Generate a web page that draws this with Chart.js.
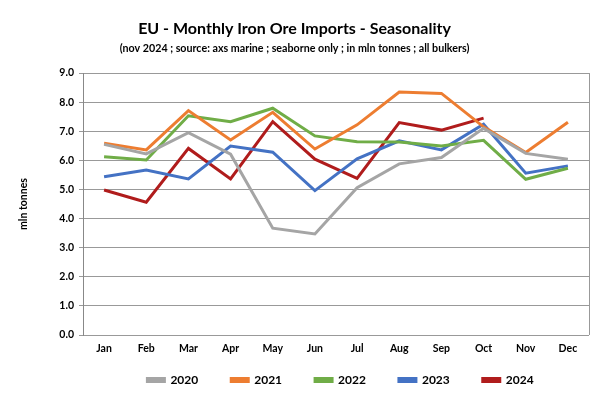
<!DOCTYPE html>
<html>
<head>
<meta charset="utf-8">
<script src="https://cdn.jsdelivr.net/npm/chart.js@4"></script>
<style>
  body { margin: 0; background: #fff; }
  #wrap { width: 600px; height: 396px; }
</style>
</head>
<body>
<div id="wrap"><canvas id="seasonChart"></canvas></div>
<script>
const months = ["Jan", "Feb", "Mar", "Apr", "May", "Jun", "Jul", "Aug", "Sep", "Oct", "Nov", "Dec"];
const years = ["2020", "2021", "2022", "2023", "2024"];

// mln tonnes
const y2020 = [6.55, 6.22, 6.95, 6.21, 3.67, 3.47, 5.06, 5.88, 6.10, 7.10, 6.24, 6.04];
const y2021 = [6.59, 6.36, 7.71, 6.70, 7.65, 6.39, 7.22, 8.35, 8.30, 7.15, 6.27, 7.31];
const y2022 = [6.12, 6.01, 7.53, 7.33, 7.79, 6.84, 6.64, 6.63, 6.49, 6.69, 5.35, 5.73];
const y2023 = [5.44, 5.67, 5.36, 6.49, 6.28, 4.96, 6.05, 6.67, 6.36, 7.24, 5.56, 5.81];
const y2024 = [4.98, 4.56, 6.41, 5.36, 7.33, 6.04, 5.38, 7.30, 7.04, 7.45, null, null];

const yTicks = [0, 1, 2, 3, 4, 5, 6, 7, 8, 9];

const colors = ["#a5a5a5", "#ed7d31", "#70ad47", "#4472c4", "#b01c1c"];
const series = [y2020, y2021, y2022, y2023, y2024];

const font = "Lato, 'Open Sans', sans-serif";

// right edge of the plot frame + legend nudged like the original
const frameRight = {
  id: "frameRight",
  afterLayout(chart) {
    const lg = chart.legend;
    if (lg) {
      lg.left += 46;
      lg.right += 46;
      lg.top -= 16;
      lg.bottom = chart.height;
    }
  },
  afterDraw(chart) {
    const a = chart.chartArea;
    const c = chart.ctx;
    c.save();
    c.strokeStyle = "#999";
    c.lineWidth = 1;
    c.beginPath();
    c.moveTo(a.right + 0.5, a.top);
    c.lineTo(a.right + 0.5, a.bottom);
    c.stroke();
    c.restore();
  }
};

const ctx = document.getElementById("seasonChart").getContext("2d");
new Chart(ctx, {
  type: "line",
  data: {
    labels: months,
    datasets: years.map((y, i) => ({
      label: y,
      data: series[i],
      borderColor: colors[i],
      backgroundColor: colors[i],
      borderWidth: 3,
      pointRadius: 0,
      tension: 0,
      spanGaps: false
    }))
  },
  options: {
    responsive: true,
    maintainAspectRatio: false,
    animation: false,
    layout: { padding: { top: 10, right: 11, left: 0, bottom: 0 } },
    plugins: {
      title: {
        display: true,
        text: "EU - Monthly Iron Ore Imports - Seasonality",
        color: "#000",
        font: { family: font, size: 16, weight: "bold" },
        padding: { top: 9, bottom: 2 }
      },
      subtitle: {
        display: true,
        text: "(nov 2024 ; source: axs marine ; seaborne only ; in mln tonnes ; all bulkers)",
        color: "#000",
        font: { family: font, size: 10.7, weight: "bold" },
        padding: { top: 1.5, bottom: 18.5 }
      },
      legend: {
        position: "bottom",
        maxHeight: 39,
        labels: {
          color: "#000",
          boxWidth: 17,
          boxHeight: 3,
          padding: 33,
          font: { family: font, size: 12, weight: "bold", lineHeight: 1 }
        }
      },
      tooltip: { enabled: false }
    },
    scales: {
      x: {
        offset: true,
        afterFit(scale) { scale.height = 22; },
        grid: { display: false, drawTicks: false },
        border: { display: false },
        ticks: {
          color: "#000",
          font: { family: font, size: 10.5, weight: "bold" },
          padding: 7
        }
      },
      y: {
        min: 0,
        max: 9,
        afterBuildTicks(scale) {
          scale.ticks = yTicks.map(v => ({ value: v }));
        },
        afterFit(scale) { scale.width = 83; },
        grid: { color: "#999", tickLength: 4 },
        border: { display: true, color: "#888" },
        title: {
          display: true,
          text: "mln tonnes",
          color: "#000",
          font: { family: font, size: 10.5, weight: "bold" },
          padding: { top: 17, bottom: 4 }
        },
        ticks: {
          color: "#000",
          font: { family: font, size: 10.5, weight: "bold" },
          padding: 5,
          callback: v => v.toFixed(1)
        }
      }
    }
  },
  plugins: [frameRight]
});
</script>
</body>
</html>
